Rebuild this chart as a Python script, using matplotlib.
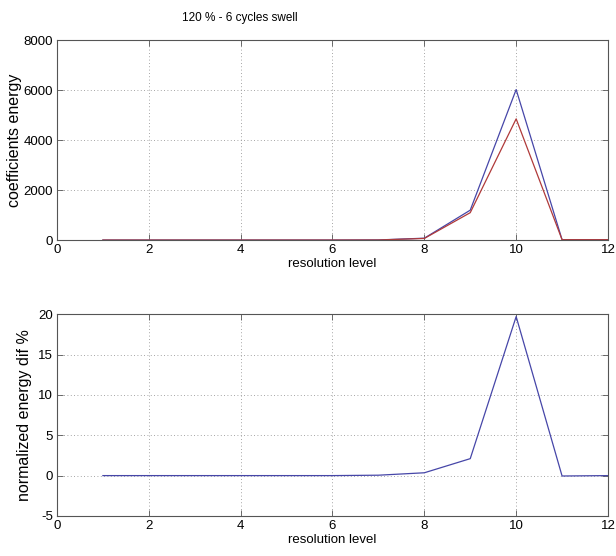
import matplotlib
matplotlib.use('Agg')
from matplotlib import pyplot as plt

# wavelet decomposition levels
levels = [1, 2, 3, 4, 5, 6, 7, 8, 9, 10, 11, 12]
# coefficient energy per level, disturbed vs reference signal
energy_swell = [5, 5, 5, 5, 5, 5, 10, 80, 1200, 6020, 20, 20]
energy_ref = [5, 5, 5, 5, 5, 5, 8, 70, 1100, 4850, 20, 20]
# normalized energy difference in percent
energy_dif = [0, 0, 0, 0, 0, 0, 0.05, 0.35, 2.1, 19.7, -0.05, 0.0]

xticks = [0, 2, 4, 6, 8, 10, 12]

plt.rcParams['font.family'] = ['Liberation Sans', 'DejaVu Sans']
plt.rcParams['font.size'] = 9
plt.rcParams['axes.unicode_minus'] = False

fig = plt.figure(figsize=(6.16, 5.56), dpi=100)
ax1 = fig.add_axes([0.0925, 0.568, 0.8945, 0.360])
ax2 = fig.add_axes([0.0925, 0.072, 0.8945, 0.363])

def style(ax):
    ax.grid(True, linestyle=(0, (1, 3)), color='#888888', linewidth=0.6)
    ax.tick_params(direction='in', top=True, right=True, length=4, width=0.6,
                   colors='#555555', labelcolor='black', labelsize=9.5, pad=3)
    for s in ax.spines.values():
        s.set_color('#555555')
        s.set_linewidth(0.8)
    ax.set_xlim(0, 12)
    ax.set_xticks(xticks)
    ax.set_xlabel('resolution level', labelpad=1, fontsize=9.5)

ax1.plot(levels, energy_swell, color='#4646a8', linewidth=0.9)
ax1.plot(levels, energy_ref, color='#b03a3a', linewidth=0.9)
ax1.set_ylim(0, 8000)
ax1.set_yticks([0, 2000, 4000, 6000, 8000])
ax1.set_ylabel('coefficients energy', labelpad=1, fontsize=11.5)
style(ax1)

ax2.plot(levels, energy_dif, color='#4646a8', linewidth=0.9)
ax2.set_ylim(-5, 20)
ax2.set_yticks([-5, 0, 5, 10, 15, 20])
ax2.set_ylabel('normalized energy dif %', labelpad=4, fontsize=11.5)
style(ax2)

fig.text(0.39, 0.968, '120 % - 6 cycles swell', ha='center', va='center', fontsize=8.5)

plt.savefig('out.png', dpi=100)
